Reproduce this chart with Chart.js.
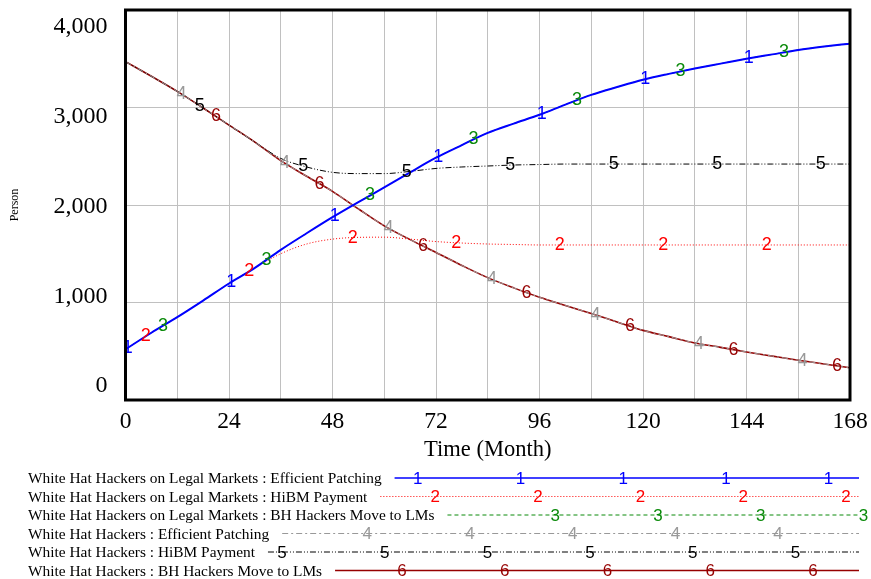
<!DOCTYPE html>
<html>
<head>
<meta charset="utf-8">
<script src="https://cdn.jsdelivr.net/npm/chart.js@4.4.0/dist/chart.umd.min.js"></script>
<style>
  html, body { margin: 0; padding: 0; background: #fff; }
  #wrap { width: 871px; height: 579px; }
</style>
</head>
<body>
<div id="wrap"><canvas id="chart" width="871" height="579"></canvas></div>
<script>
// --- Data (Person, by Month) ---
const months = [0, 6, 12, 18, 24, 30, 36, 42, 48, 54, 60, 66, 72, 78, 84, 90, 96, 102, 108, 114, 120, 126, 132, 138, 144, 150, 156, 162, 168];

const legalPatching = [520, 690, 850, 1020, 1195, 1355, 1540, 1710, 1875, 2030, 2180, 2335, 2485, 2615, 2740, 2835, 2925, 3030, 3130, 3210, 3285, 3345, 3400, 3450, 3500, 3545, 3590, 3625, 3655];
const legalHibm = [520, 690, 850, 1020, 1195, 1355, 1500, 1600, 1650, 1668, 1670, 1650, 1625, 1610, 1600, 1595, 1590, 1590, 1590, 1590, 1590, 1590, 1590, 1590, 1590, 1590, 1590, 1590, 1590];
const legalBhMove = [520, 690, 850, 1020, 1195, 1355, 1540, 1710, 1875, 2030, 2180, 2335, 2485, 2615, 2740, 2835, 2925, 3030, 3130, 3210, 3285, 3345, 3400, 3450, 3500, 3545, 3590, 3625, 3655];
const whPatching = [3470, 3320, 3165, 2995, 2820, 2645, 2455, 2295, 2140, 1960, 1786, 1645, 1513, 1380, 1255, 1150, 1054, 970, 887, 800, 714, 650, 585, 540, 493, 450, 408, 370, 330];
const whHibm = [3470, 3320, 3165, 2995, 2820, 2645, 2478, 2390, 2335, 2322, 2322, 2345, 2375, 2390, 2400, 2410, 2415, 2420, 2420, 2420, 2420, 2420, 2420, 2420, 2420, 2420, 2420, 2420, 2420];
const whBhMove = [3470, 3320, 3165, 2995, 2820, 2645, 2455, 2295, 2140, 1960, 1786, 1645, 1513, 1380, 1255, 1150, 1054, 970, 887, 800, 714, 650, 585, 540, 493, 450, 408, 370, 330];

const seriesNames = [
    'White Hat Hackers on Legal Markets : Efficient Patching',
    'White Hat Hackers on Legal Markets : HiBM Payment',
    'White Hat Hackers on Legal Markets : BH Hackers Move to LMs',
    'White Hat Hackers : Efficient Patching',
    'White Hat Hackers : HiBM Payment',
    'White Hat Hackers : BH Hackers Move to LMs'
];
const seriesValues = [legalPatching, legalHibm, legalBhMove, whPatching, whHibm, whBhMove];

// first month where each series' number label sits, then one every 24 months
const markerStart = [0.5, 4.7, 8.7, 13, 17.2, 21];
const markerStep = 24;

const yTicks = [0, 1000, 2000, 3000, 4000];

// --- Styles ---
const colors = ['#0000ff', '#ff0000', '#0a8a0a', '#999999', '#000000', '#960000'];
const widths = [2, 1, 1, 1, 1, 1.6];
const dashes = [[], [1, 2], [4, 3], [6, 3, 2, 3], [6, 2, 1, 2, 1, 2], []];
const serif = '"Liberation Serif", "Times New Roman", serif';
const sans = '"Liberation Sans", Arial, sans-serif';

const datasets = seriesValues.map((vals, i) => ({
    label: seriesNames[i],
    data: months.map((m, j) => ({ x: m, y: vals[j] })),
    borderColor: colors[i],
    borderWidth: widths[i],
    borderDash: dashes[i],
    pointRadius: 0,
    fill: false,
    tension: 0,
    cubicInterpolationMode: 'monotone'
}));

// numbers on the plot lines, frame, y labels and the Vensim style legend
const vensimPlugin = {
    id: 'vensim',
    afterDatasetsDraw(chart) {
        const ctx = chart.ctx;
        const area = chart.chartArea;
        const xs = chart.scales.x;
        ctx.save();
        ctx.font = '18px ' + sans;
        ctx.textAlign = 'center';
        ctx.textBaseline = 'middle';
        datasets.forEach((ds, i) => {
            const meta = chart.getDatasetMeta(i);
            for (let t = markerStart[i]; t <= 168; t += markerStep) {
                const px = xs.getPixelForValue(t);
                let p = meta.dataset.interpolate({ x: px }, 'x');
                if (Array.isArray(p)) p = p[0];
                if (!p) continue;
                ctx.fillStyle = colors[i];
                ctx.fillText(String(i + 1), px, p.y);
            }
        });
        // frame
        ctx.strokeStyle = '#000';
        ctx.lineWidth = 3;
        ctx.strokeRect(area.left, area.top, area.right - area.left, area.bottom - area.top);
        ctx.restore();
    },
    afterDraw(chart) {
        const ctx = chart.ctx;
        const area = chart.chartArea;
        const ys = chart.scales.y;
        ctx.save();

        // y labels: Vensim spreads them inside the frame, a bit in from top and bottom
        const inTop = 16, inBottom = 15;
        const span = area.bottom - area.top;
        const k = (span - inTop - inBottom) / span;
        ctx.font = '24px ' + serif;
        ctx.fillStyle = '#000';
        ctx.textAlign = 'right';
        ctx.textBaseline = 'middle';
        yTicks.forEach(v => {
            const gy = ys.getPixelForValue(v);
            const ly = area.top + inTop + (gy - area.top) * k;
            ctx.fillText(v.toLocaleString('en-US'), area.left - 18, ly + 1);
        });

        const textX = 28;
        const lineEnd = 859;
        const rowTop = 478;
        const rowGap = 18.5;
        const digitGap = 102.7;
        seriesNames.forEach((name, i) => {
            const y = rowTop + i * rowGap;
            ctx.font = '15.4px ' + serif;
            ctx.fillStyle = '#000';
            ctx.textAlign = 'left';
            ctx.textBaseline = 'middle';
            ctx.fillText(name, textX, y + 1);
            const start = textX + ctx.measureText(name).width + 13;
            ctx.strokeStyle = colors[i];
            ctx.lineWidth = (i === 0 || i === 5) ? 1.6 : 1;
            ctx.setLineDash(dashes[i]);
            ctx.beginPath();
            ctx.moveTo(start, y);
            ctx.lineTo(lineEnd, y);
            ctx.stroke();
            ctx.setLineDash([]);
            // digits along the legend line
            let p = 7 + 17.4 * i;
            while (p < start + 8) p += digitGap;
            ctx.font = '17px ' + sans;
            ctx.textAlign = 'center';
            ctx.fillStyle = colors[i];
            for (; p <= lineEnd + 6; p += digitGap) {
                ctx.fillText(String(i + 1), p, y + 1);
            }
        });
        ctx.restore();
    }
};

new Chart(document.getElementById('chart'), {
    type: 'line',
    data: { datasets: datasets },
    options: {
        responsive: false,
        animation: false,
        events: [],
        layout: { padding: { left: 0, right: 21, top: 10, bottom: 113 } },
        plugins: {
            legend: { display: false },
            tooltip: { enabled: false }
        },
        scales: {
            x: {
                type: 'linear',
                min: 0,
                max: 168,
                border: { display: false },
                grid: { color: '#c0c0c0', lineWidth: 1, drawTicks: false },
                ticks: {
                    stepSize: 12,
                    autoSkip: false,
                    maxRotation: 0,
                    padding: 8,
                    color: '#000',
                    font: { family: serif, size: 23.5 },
                    callback: v => (v % 24 === 0 ? String(v) : '')
                },
                title: {
                    display: true,
                    text: 'Time (Month)',
                    color: '#000',
                    font: { family: serif, size: 22.5 },
                    padding: { top: 0, bottom: 2 }
                },
                afterFit(scale) {
                    scale.height = 66;
                    scale.paddingLeft = 0;
                    scale.paddingRight = 0;
                }
            },
            y: {
                type: 'linear',
                min: yTicks[0],
                max: yTicks[yTicks.length - 1],
                border: { display: false },
                grid: { color: '#c0c0c0', lineWidth: 1, drawTicks: false },
                afterBuildTicks(scale) {
                    scale.ticks = yTicks.map(v => ({ value: v }));
                },
                ticks: { display: false },
                title: {
                    display: true,
                    text: 'Person',
                    color: '#000',
                    font: { family: serif, size: 12 },
                    padding: { top: 8, bottom: 0 }
                },
                afterFit(scale) {
                    scale.width = 125.5;
                    scale.paddingTop = 0;
                    scale.paddingBottom = 0;
                }
            }
        }
    },
    plugins: [vensimPlugin]
});
</script>
</body>
</html>
